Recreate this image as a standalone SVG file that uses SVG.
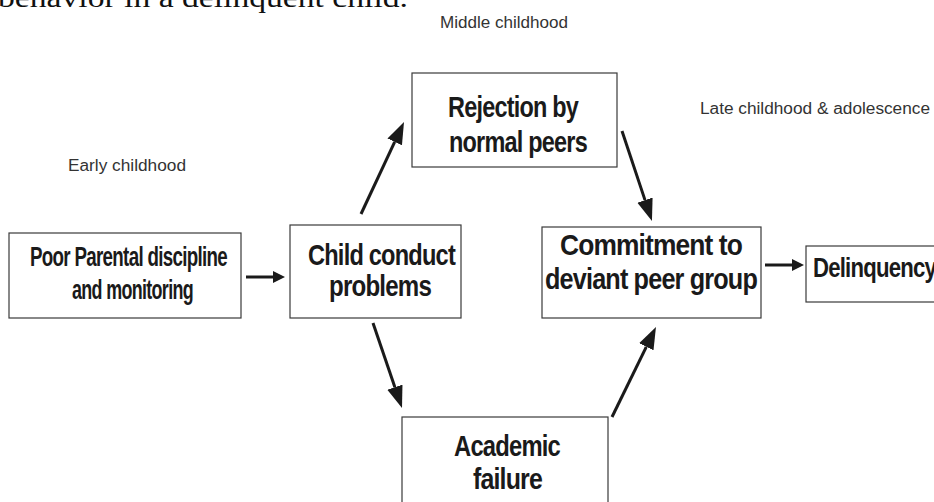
<svg xmlns="http://www.w3.org/2000/svg" width="934" height="502" viewBox="0 0 934 502">
<style>
.box{fill:#fff;stroke:#3a3a3a;stroke-width:1.2}
.t{font-family:"Liberation Sans",Arial,sans-serif;font-weight:bold;fill:#1a1a1a;letter-spacing:-1px}
.lbl{font-family:"Liberation Sans",Arial,sans-serif;font-size:16px;fill:#333}
.c{fill:none;stroke:#1a1a1a;stroke-width:3}
</style>
<defs>
<marker id="big" markerUnits="userSpaceOnUse" markerWidth="24" markerHeight="18" viewBox="0 -9 24 18" refX="0" refY="0" orient="auto"><path d="M0,-8 L22,0 L0,8 z" fill="#1a1a1a"/></marker>
<marker id="small" markerUnits="userSpaceOnUse" markerWidth="14" markerHeight="14" viewBox="0 -7 14 14" refX="0" refY="0" orient="auto"><path d="M0,-6 L12,0 L0,6 z" fill="#1a1a1a"/></marker>
</defs>
<rect width="934" height="502" fill="#fff"/>
<text x="-2" y="7" font-family="Liberation Serif,'Times New Roman',serif" font-size="28" fill="#111" textLength="410" lengthAdjust="spacingAndGlyphs">behavior in a delinquent child.</text>
<text class="lbl" x="440" y="28" textLength="128" lengthAdjust="spacingAndGlyphs">Middle childhood</text>
<text class="lbl" x="68" y="171" textLength="118" lengthAdjust="spacingAndGlyphs">Early childhood</text>
<text class="lbl" x="700" y="114" textLength="230" lengthAdjust="spacingAndGlyphs">Late childhood &amp; adolescence</text>
<g id="connectors">
<path class="c" d="M246,277 L273,277" marker-end="url(#small)"/>
<path class="c" d="M361,214 L394.7,141.9" marker-end="url(#big)"/>
<path class="c" d="M622,131 L645,200.1" marker-end="url(#big)"/>
<path class="c" d="M373,323 L394.9,387.2" marker-end="url(#big)"/>
<path class="c" d="M612,417 L646.3,346.8" marker-end="url(#big)"/>
<path class="c" d="M765,265 L792,265" marker-end="url(#small)"/>
</g>
<g id="n-parental">
<rect class="box" x="9" y="233" width="232" height="85"/>
<text class="t" font-size="27" x="30" y="266" textLength="197" lengthAdjust="spacingAndGlyphs">Poor Parental discipline</text>
<text class="t" font-size="27" x="72" y="299" textLength="121" lengthAdjust="spacingAndGlyphs">and monitoring</text>
</g>
<g id="n-conduct">
<rect class="box" x="290" y="225" width="171" height="93"/>
<text class="t" font-size="30" x="308" y="265" textLength="147" lengthAdjust="spacingAndGlyphs">Child conduct</text>
<text class="t" font-size="30" x="329" y="296" textLength="102" lengthAdjust="spacingAndGlyphs">problems</text>
</g>
<g id="n-rejection">
<rect class="box" x="412" y="73" width="205" height="94"/>
<text class="t" font-size="30" x="448" y="117" textLength="130" lengthAdjust="spacingAndGlyphs">Rejection by</text>
<text class="t" font-size="30" x="449" y="152" textLength="138" lengthAdjust="spacingAndGlyphs">normal peers</text>
</g>
<g id="n-commitment">
<rect class="box" x="542" y="227" width="219" height="91"/>
<text class="t" font-size="30" x="560" y="255" textLength="182" lengthAdjust="spacingAndGlyphs">Commitment to</text>
<text class="t" font-size="30" x="545" y="289" textLength="212" lengthAdjust="spacingAndGlyphs">deviant peer group</text>
</g>
<g id="n-delinquency">
<rect class="box" x="806" y="246" width="140" height="56"/>
<text class="t" font-size="28" x="813" y="277" textLength="123" lengthAdjust="spacingAndGlyphs">Delinquency</text>
</g>
<g id="n-academic">
<rect class="box" x="402" y="417" width="206" height="100"/>
<text class="t" font-size="30" x="454" y="456" textLength="106" lengthAdjust="spacingAndGlyphs">Academic</text>
<text class="t" font-size="30" x="473" y="489" textLength="69" lengthAdjust="spacingAndGlyphs">failure</text>
</g>
</svg>
